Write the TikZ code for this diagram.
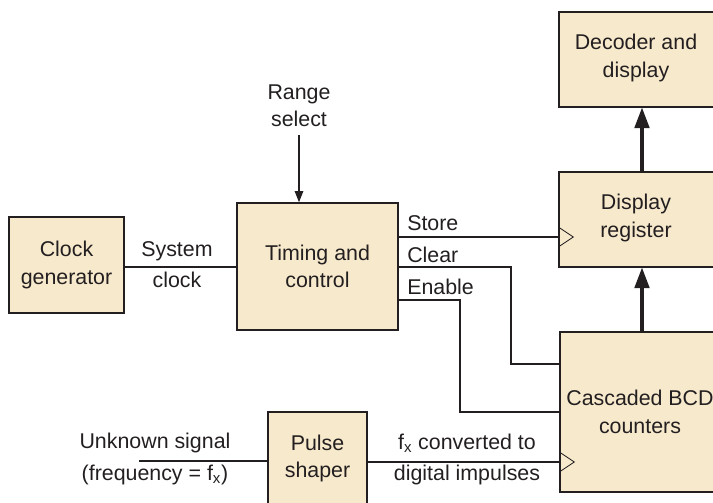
\documentclass[tikz,border=0pt]{standalone}
\usepackage{fontspec}
\setmainfont{Liberation Sans}
\usepackage{tikz}
\usetikzlibrary{arrows.meta,positioning,calc}
\definecolor{blockfill}{HTML}{F7E9CC}
\definecolor{blockink}{HTML}{231F20}

\tikzset{
  block/.style={draw=blockink, line width=1pt, fill=blockfill, rectangle,
    align=center, inner sep=0pt, text=blockink},
  wire/.style={draw=blockink, line width=1.5pt},
  clkmark/.style={draw=blockink, line width=0.6pt},
  busarrow/.style={draw=blockink, line width=3.2pt,
    -{Triangle[length=15pt, width=10pt]}, shorten >=-0.5pt},
  sigarrow/.style={draw=blockink, line width=1.2pt,
    -{Triangle[length=8pt, width=6pt]}},
  lbl/.style={align=center, inner sep=0pt, text=blockink}
}

\begin{document}
\begin{tikzpicture}[x=0.025cm, y=-0.025cm,
    every node/.style={font=\fontsize{15.2}{19.5}\selectfont}]
  \path[use as bounding box, clip] (0,0) rectangle (713,502);

  % blocks
  \node[block, minimum width=115*0.025cm, minimum height=96*0.025cm]
    (clkgen) at (66.5,265) {Clock\\generator};
  \node[block, minimum width=161*0.025cm, minimum height=127*0.025cm]
    (timing) at (317.5,266.5) {Timing and\\control};
  \node[block, minimum width=99*0.025cm, minimum height=110*0.025cm]
    (pulse) at (317.5,467) {};
  \node[lbl] at (317.5,458.5) {Pulse\\shaper};
  \node[block, minimum width=160*0.025cm, minimum height=95*0.025cm]
    (dec) at (639,59.5) {};
  \node[lbl] at (636,58) {Decoder and\\display};
  \node[block, minimum width=160*0.025cm, minimum height=95*0.025cm]
    (reg) at (639,219.5) {};
  \node[lbl] at (636,218) {Display\\register};
  \node[block, minimum width=160*0.025cm, minimum height=160*0.025cm]
    (bcd) at (640,412) {Cascaded BCD\\counters};

  % labels
  \node[lbl] (rangelbl) at (299,106) {Range\\select};
  \node[lbl] (syslbl) at (177,251) {System};
  \node[lbl] (clklbl) at (177,280) {clock};
  \node[lbl, anchor=west] (storelbl) at (407,223) {Store};
  \node[lbl, anchor=west] (clearlbl) at (407,255) {Clear};
  \node[lbl, anchor=west] (enlbl) at (407,287) {Enable};
  \node[lbl] (unklbl) at (155,443) {Unknown signal};
  \node[lbl] (freqlbl) at (155,475) {(frequency = f\textsubscript{x})};
  \node[lbl] (fxlbl) at (467,443) {f\textsubscript{x} converted to};
  \node[lbl] (diglbl) at (467,475) {digital impulses};

  \coordinate (rangetop) at (299,135);
  \coordinate (signalin) at (139,461);

  % connections
  \draw[wire] (clkgen.east |- 0,267) -- (timing.west |- 0,267);
  \draw[sigarrow] (rangetop) -- (timing.north -| rangetop);
  \draw[wire] (timing.east |- 0,237) -- (reg.west |- 0,237);
  \draw[wire] (timing.east |- 0,267) -- (511,267) |- (bcd.west |- 0,364);
  \draw[wire] (timing.east |- 0,300) -- (460,300) |- (bcd.west |- 0,412);
  \draw[wire] (signalin) -- (pulse.west |- signalin);
  \draw[wire] (pulse.east |- 0,462) -- (bcd.west |- 0,462);
  \draw[busarrow] (reg.north -| 642,0) -- (dec.south -| 642,0);
  \draw[busarrow] (bcd.north -| 642,0) -- (reg.south -| 642,0);

  % clock inputs
  \draw[clkmark] (reg.west |- 0,227) -- ++(15,10) -- ++(-15,10);
  \draw[clkmark] (bcd.west |- 0,452) -- ++(15,10) -- ++(-15,10);
\end{tikzpicture}
\end{document}
